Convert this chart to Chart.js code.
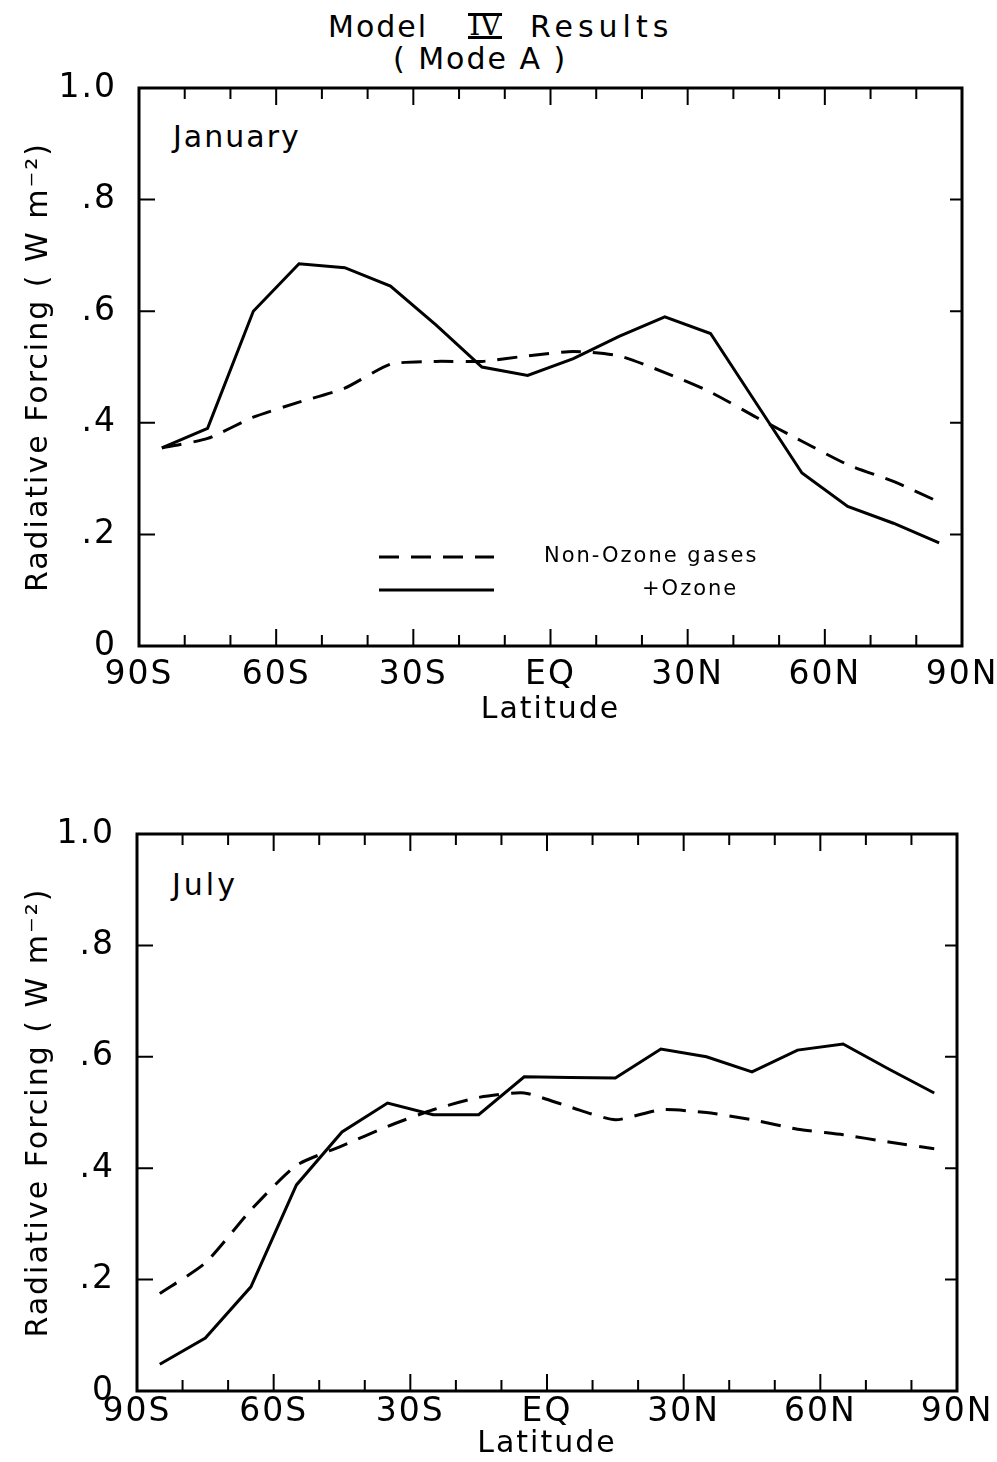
<!DOCTYPE html>
<html>
<head>
<meta charset="utf-8">
<script src="https://cdn.jsdelivr.net/npm/chart.js@4/dist/chart.umd.min.js"></script>
<style>
  body { margin: 0; background: #fff; }
  #page { position: relative; width: 997px; height: 1462px; overflow: hidden;
          font-family: "DejaVu Sans", sans-serif; color: #000; }
  canvas { position: absolute; left: 0; }
  .txt { position: absolute; font-size: 30px; line-height: 34px; white-space: nowrap; }
  .iv { position: absolute; left: 468px; top: 13px; width: 34px; height: 20px;
        border-top: 3px solid #000; border-bottom: 3px solid #000;
        font-family: "DejaVu Serif", serif; font-size: 28px; line-height: 20px;
        text-align: center; }
</style>
</head>
<body>
<div id="page">
  <div class="txt" style="left:328px;top:10px;letter-spacing:2px">Model</div>
  <div class="iv">IV</div>
  <div class="txt" style="left:530px;top:10px;letter-spacing:5px">Results</div>
  <div class="txt" style="left:393px;top:42px;letter-spacing:2px">( Mode A )</div>
  <div class="txt" style="left:173px;top:120px;letter-spacing:2px">January</div>
  <div class="txt" style="left:172px;top:868px;letter-spacing:3px">July</div>
  <canvas id="janChart" width="997" height="685" style="top:43px;width:997px;height:685px"></canvas>
  <canvas id="julChart" width="997" height="673" style="top:789px;width:997px;height:673px"></canvas>
</div>

<script>
// ── data (10° latitude bands) ──
const latitudes    = [-85, -75, -65, -55, -45, -35, -25, -15, -5, 5, 15, 25, 35, 45, 55, 65, 75, 85];

const janNonOzone  = [0.355, 0.372, 0.41, 0.437, 0.462, 0.505, 0.51, 0.51, 0.52, 0.528, 0.52, 0.49, 0.455, 0.41, 0.367, 0.325, 0.295, 0.258];
const janOzone     = [0.355, 0.39, 0.60, 0.685, 0.678, 0.645, 0.575, 0.50, 0.485, 0.515, 0.555, 0.59, 0.56, 0.435, 0.31, 0.25, 0.22, 0.185];

const julNonOzone  = [0.175, 0.23, 0.325, 0.405, 0.44, 0.475, 0.505, 0.527, 0.535, 0.51, 0.487, 0.505, 0.50, 0.487, 0.47, 0.46, 0.447, 0.435];
const julOzone     = [0.048, 0.095, 0.187, 0.37, 0.465, 0.517, 0.496, 0.496, 0.564, 0.563, 0.562, 0.614, 0.60, 0.573, 0.612, 0.623, 0.578, 0.535];

const xTickValues  = [-90, -60, -30, 0, 30, 60, 90];
const xTickText    = ['90S', '60S', '30S', 'EQ', '30N', '60N', '90N'];
const yTickText    = ['0', '.2', '.4', '.6', '.8', '1.0'];

const seriesNames  = ['Non-Ozone gases', '+Ozone'];

const FONT = '"DejaVu Sans", sans-serif';

// ─── frame, inward ticks, legend ───
const frameTicks = {
  id: 'frameTicks',
  beforeDraw(chart) {
    chart.ctx.letterSpacing = '2px';   // lettered look of the original
  },
  afterDatasetsDraw(chart, args, opts) {
    const { ctx, chartArea: a, scales: { x, y } } = chart;
    ctx.save();
    ctx.strokeStyle = '#000';
    ctx.lineWidth = 3;
    ctx.strokeRect(a.left, a.top, a.right - a.left, a.bottom - a.top);

    ctx.lineWidth = 2;
    ctx.beginPath();
    x.ticks.forEach(t => {
      if (t.value <= x.min || t.value >= x.max) return;
      const px = x.getPixelForValue(t.value);
      const len = t.value % 30 === 0 ? 17 : 11;
      ctx.moveTo(px, a.bottom); ctx.lineTo(px, a.bottom - len);
      ctx.moveTo(px, a.top);    ctx.lineTo(px, a.top + len);
    });
    y.ticks.forEach(t => {
      if (t.value <= y.min + 1e-6 || t.value >= y.max - 1e-6) return;
      const py = y.getPixelForValue(t.value);
      ctx.moveTo(a.left, py);  ctx.lineTo(a.left + 16, py);
      ctx.moveTo(a.right, py); ctx.lineTo(a.right - 12, py);
    });
    ctx.stroke();

    if (opts.legend) {
      // [line start, line end, row y, text x] relative to the plot area
      const rows = [[240, 355, 469, 405], [240, 355, 502, 503]];
      chart.data.datasets.forEach((ds, i) => {
        const [x0, x1, yy, tx] = rows[i];
        ctx.beginPath();
        ctx.lineWidth = ds.borderWidth;
        ctx.setLineDash(ds.borderDash || []);
        ctx.moveTo(a.left + x0, a.top + yy);
        ctx.lineTo(a.left + x1, a.top + yy);
        ctx.stroke();
        ctx.setLineDash([]);
        ctx.fillStyle = '#000';
        ctx.font = '21px ' + FONT;
        ctx.textBaseline = 'middle';
        ctx.fillText(ds.label, a.left + tx, a.top + yy);
      });
    }
    ctx.restore();
  },
  afterDraw(chart) {
    chart.ctx.letterSpacing = '0px';
  }
};

function makeChart(id, nonOz, oz, cfg) {
  return new Chart(document.getElementById(id), {
    type: 'line',
    data: {
      datasets: [
        {
          label: seriesNames[0],
          data: latitudes.map((lat, i) => ({ x: lat, y: nonOz[i] })),
          borderColor: '#000',
          borderWidth: 3,
          borderDash: [20, 12],
          tension: 0.2,
          pointRadius: 0,
        },
        {
          label: seriesNames[1],
          data: latitudes.map((lat, i) => ({ x: lat, y: oz[i] })),
          borderColor: '#000',
          borderWidth: 3,
          tension: 0,
          pointRadius: 0,
        },
      ]
    },
    options: {
      responsive: false,
      animation: false,
      layout: { padding: { top: 45, right: cfg.right, bottom: 0, left: 0 } },
      plugins: {
        legend: { display: false },
        tooltip: { enabled: false },
        frameTicks: { legend: cfg.legend },
      },
      scales: {
        x: {
          type: 'linear',
          min: -90, max: 90,
          grid: { display: false, drawTicks: false },
          border: { display: false },
          ticks: {
            stepSize: 10,
            autoSkip: false,
            maxRotation: 0,
            padding: 0,
            color: '#000',
            font: { family: FONT, size: 33, lineHeight: cfg.xLH },
            callback: v => {
              const k = xTickValues.indexOf(Math.round(v));
              return k >= 0 ? xTickText[k] : '';
            },
          },
          title: {
            display: true, text: 'Latitude', color: '#000',
            font: { family: FONT, size: 30 },
            padding: { top: 0, bottom: 0 },
          },
          afterFit: s => { s.height = cfg.xH; },
        },
        y: {
          min: 0, max: 1,
          grid: { display: false, drawTicks: false },
          border: { display: false },
          ticks: {
            stepSize: 0.2,
            padding: 22,
            color: '#000',
            font: { family: FONT, size: 33 },
            callback: v => yTickText[Math.round(v / 0.2)],
          },
          title: {
            display: true, text: 'Radiative Forcing ( W m⁻²)', color: '#000',
            font: { family: FONT, size: 30 },
            padding: { top: 21, bottom: 0 },
          },
          afterFit: s => { s.width = cfg.yW; },
        },
      },
    },
    plugins: [frameTicks],
  });
}

makeChart('janChart', janNonOzone, janOzone, { right: 35, yW: 139, xH: 82, xLH: 58 / 33, legend: true });
makeChart('julChart', julNonOzone, julOzone, { right: 40, yW: 137, xH: 71, xLH: 42 / 33, legend: false });
</script>
</body>
</html>
